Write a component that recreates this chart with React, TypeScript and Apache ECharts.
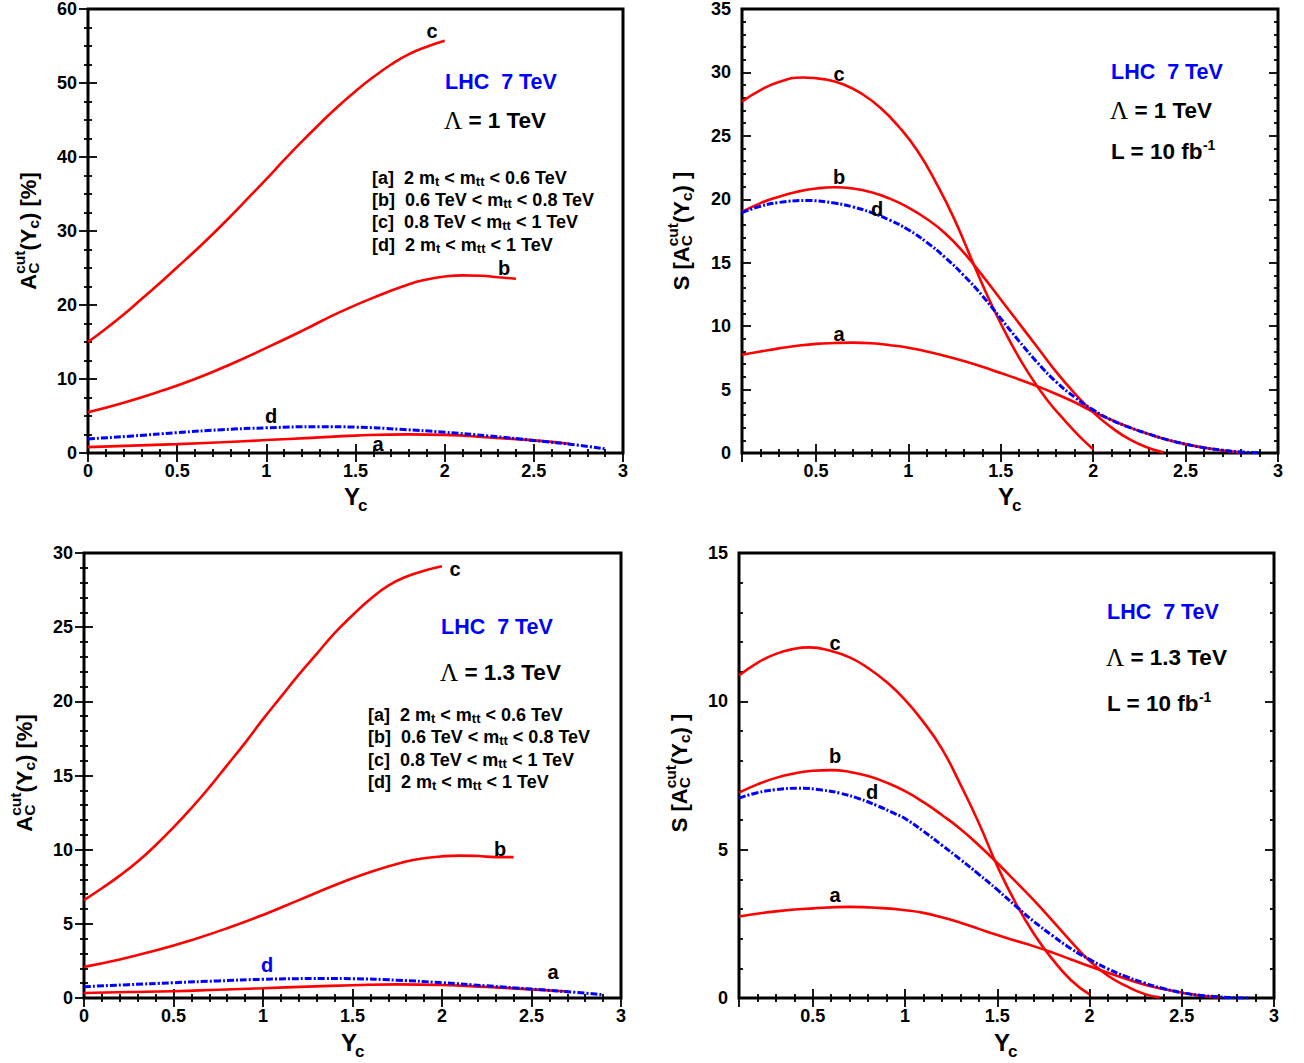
import React, { useEffect, useRef } from "react";
import * as echarts from "echarts";

const FF = "'Liberation Sans', Arial, Helvetica, sans-serif";
const SERIF = "'Liberation Serif', 'DejaVu Serif', serif";
const RED = "#ff0000";
const BLUE = "#0000ff";

// ---------- Panel 1: A_C^cut(Yc) [%], Lambda = 1 TeV ----------
const P1_C_X = [0, 0.1, 0.2, 0.3, 0.4, 0.5, 0.6, 0.7, 0.8, 0.9, 1.0, 1.1, 1.2, 1.3, 1.4, 1.5, 1.6, 1.7, 1.8, 1.9, 2.0];
const P1_C_Y = [15, 16.8, 18.7, 20.8, 22.9, 25.1, 27.3, 29.6, 32.0, 34.5, 37.0, 39.6, 42.1, 44.5, 46.8, 48.9, 50.8, 52.5, 53.9, 54.9, 55.7];
const P1_B_X = [0, 0.2, 0.4, 0.6, 0.8, 1.0, 1.2, 1.4, 1.6, 1.8, 1.9, 2.0, 2.1, 2.2, 2.3, 2.4];
const P1_B_Y = [5.5, 6.8, 8.3, 10.0, 12.0, 14.2, 16.5, 18.9, 21.0, 22.8, 23.45, 23.85, 24.0, 23.95, 23.75, 23.55];
const P1_D_X = [0, 0.25, 0.5, 0.75, 1, 1.3, 1.5, 1.75, 2, 2.25, 2.5, 2.75, 2.9];
const P1_D_Y = [1.9, 2.3, 2.75, 3.15, 3.4, 3.56, 3.5, 3.2, 2.8, 2.3, 1.7, 1.05, 0.55];
const P1_A_X = [0, 0.25, 0.5, 0.75, 1, 1.25, 1.5, 1.8, 2, 2.25, 2.5, 2.7];
const P1_A_Y = [0.8, 1.0, 1.2, 1.45, 1.75, 2.05, 2.35, 2.52, 2.45, 2.1, 1.7, 1.25];

// ---------- Panel 2: S[A_C^cut(Yc)], Lambda = 1 TeV ----------
const P2_C_X = [0.1, 0.2, 0.3, 0.43, 0.55, 0.65, 0.75, 0.85, 0.95, 1.05, 1.15, 1.25, 1.35, 1.45, 1.55, 1.65, 1.75, 1.85, 1.93, 2.0];
const P2_C_Y = [27.7, 28.6, 29.25, 29.6, 29.45, 29.05, 28.3, 27.2, 25.7, 23.8, 21.3, 18.4, 15.0, 11.7, 8.8, 6.3, 4.2, 2.5, 1.25, 0.3];
const P2_B_X = [0.1, 0.2, 0.3, 0.4, 0.5, 0.6, 0.7, 0.8, 0.9, 1.0, 1.1, 1.2, 1.3, 1.4, 1.5, 1.6, 1.7, 1.8, 1.9, 2.0, 2.1, 2.2, 2.3, 2.38];
const P2_B_Y = [19.0, 19.7, 20.2, 20.6, 20.85, 20.95, 20.85, 20.55, 20.05, 19.35, 18.45, 17.3, 15.8, 14.0, 12.1, 10.2, 8.3, 6.4, 4.7, 3.2, 2.0, 1.05, 0.4, 0.05];
const P2_D_X = [0.1, 0.2, 0.3, 0.45, 0.6, 0.7, 0.8, 0.9, 1.0, 1.1, 1.2, 1.3, 1.4, 1.5, 1.6, 1.7, 1.8, 1.9, 2.0, 2.1, 2.2, 2.3, 2.4, 2.5, 2.6, 2.7, 2.8, 2.9];
const P2_D_Y = [18.95, 19.45, 19.75, 19.9, 19.7, 19.4, 18.95, 18.35, 17.6, 16.6, 15.4, 14.0, 12.4, 10.6, 8.8, 7.1, 5.6, 4.4, 3.4, 2.6, 2.0, 1.5, 1.05, 0.7, 0.42, 0.22, 0.08, 0.02];
const P2_A_X = [0.1, 0.2, 0.3, 0.4, 0.5, 0.6, 0.7, 0.8, 0.9, 1.0, 1.1, 1.2, 1.3, 1.4, 1.5, 1.6, 1.7, 1.8, 1.9, 2.0, 2.1, 2.2, 2.3, 2.4, 2.5, 2.6, 2.7, 2.8];
const P2_A_Y = [7.75, 8.0, 8.25, 8.45, 8.6, 8.67, 8.7, 8.65, 8.5, 8.3, 8.0, 7.65, 7.25, 6.8, 6.3, 5.8, 5.25, 4.65, 4.0, 3.25, 2.6, 2.0, 1.5, 1.05, 0.7, 0.42, 0.2, 0.05];

// ---------- Panel 3: A_C^cut(Yc) [%], Lambda = 1.3 TeV ----------
const P3_C_X = [0, 0.1, 0.2, 0.3, 0.4, 0.5, 0.6, 0.7, 0.8, 0.9, 1.0, 1.1, 1.2, 1.3, 1.4, 1.5, 1.6, 1.7, 1.8, 1.9, 2.0];
const P3_C_Y = [6.6, 7.4, 8.25, 9.2, 10.3, 11.5, 12.8, 14.2, 15.7, 17.2, 18.8, 20.3, 21.8, 23.2, 24.6, 25.8, 26.9, 27.8, 28.4, 28.8, 29.1];
const P3_B_X = [0, 0.2, 0.4, 0.6, 0.8, 1.0, 1.2, 1.4, 1.6, 1.8, 1.9, 2.0, 2.1, 2.2, 2.3, 2.4];
const P3_B_Y = [2.1, 2.6, 3.2, 3.9, 4.7, 5.6, 6.6, 7.6, 8.5, 9.2, 9.42, 9.55, 9.6, 9.57, 9.5, 9.5];
const P3_D_X = [0, 0.25, 0.5, 0.75, 1, 1.35, 1.5, 1.75, 2, 2.25, 2.5, 2.75, 2.9];
const P3_D_Y = [0.76, 0.9, 1.03, 1.15, 1.26, 1.31, 1.3, 1.2, 1.03, 0.82, 0.6, 0.38, 0.22];
const P3_A_X = [0, 0.25, 0.5, 0.75, 1, 1.25, 1.5, 1.75, 2, 2.25, 2.5, 2.7];
const P3_A_Y = [0.34, 0.4, 0.46, 0.56, 0.66, 0.77, 0.86, 0.92, 0.88, 0.74, 0.58, 0.44];

// ---------- Panel 4: S[A_C^cut(Yc)], Lambda = 1.3 TeV ----------
const P4_C_X = [0.1, 0.2, 0.3, 0.4, 0.48, 0.6, 0.7, 0.8, 0.9, 1.0, 1.1, 1.2, 1.3, 1.4, 1.5, 1.6, 1.7, 1.8, 1.9, 2.0];
const P4_C_Y = [10.87, 11.3, 11.6, 11.77, 11.82, 11.7, 11.48, 11.12, 10.65, 10.05, 9.3, 8.4, 7.2, 5.9, 4.45, 3.2, 2.15, 1.3, 0.6, 0.12];
const P4_B_X = [0.1, 0.2, 0.3, 0.4, 0.5, 0.6, 0.7, 0.8, 0.9, 1.0, 1.1, 1.2, 1.3, 1.4, 1.5, 1.6, 1.7, 1.8, 1.9, 2.0, 2.1, 2.2, 2.3, 2.38];
const P4_B_Y = [6.92, 7.2, 7.42, 7.57, 7.66, 7.68, 7.62, 7.48, 7.26, 6.97, 6.6, 6.17, 5.7, 5.15, 4.55, 3.92, 3.28, 2.6, 1.9, 1.25, 0.75, 0.4, 0.13, 0.02];
const P4_D_X = [0.1, 0.2, 0.3, 0.42, 0.55, 0.65, 0.75, 0.85, 0.95, 1.0, 1.1, 1.2, 1.3, 1.4, 1.5, 1.6, 1.7, 1.8, 1.9, 2.0, 2.1, 2.2, 2.3, 2.4, 2.5, 2.6, 2.7, 2.8, 2.87];
const P4_D_Y = [6.74, 6.92, 7.02, 7.07, 7.01, 6.9, 6.72, 6.48, 6.2, 6.05, 5.62, 5.15, 4.67, 4.17, 3.65, 3.1, 2.57, 2.1, 1.66, 1.3, 0.98, 0.72, 0.5, 0.32, 0.18, 0.09, 0.04, 0.01, 0];
const P4_A_X = [0.1, 0.3, 0.5, 0.7, 0.9, 1.0, 1.1, 1.2, 1.3, 1.4, 1.5, 1.6, 1.7, 1.8, 1.9, 2.0, 2.1, 2.2, 2.3, 2.4, 2.5, 2.6, 2.7];
const P4_A_Y = [2.75, 2.92, 3.02, 3.07, 3.02, 2.96, 2.87, 2.72, 2.54, 2.33, 2.12, 1.93, 1.74, 1.53, 1.3, 1.07, 0.85, 0.64, 0.45, 0.3, 0.18, 0.08, 0.02];

// axis ranges
const X_MIN = [0, 0.1, 0, 0.1];
const X_MAX = 3;
const Y_MAX = [60, 35, 30, 15];
const Y_STEP = [10, 5, 5, 5];
const Y_MINOR = [4, 5, 5, 5];

const LEGEND_LINES = [
  ["[a]  2 m", "t", " < m", "tt", " < 0.6 TeV"],
  ["[b]  0.6 TeV < m", "tt", " < 0.8 TeV"],
  ["[c]  0.8 TeV < m", "tt", " < 1 TeV"],
  ["[d]  2 m", "t", " < m", "tt", " < 1 TeV"],
];

const zip = (xs: number[], ys: number[]) => xs.map((x, i) => [x, ys[i]]);

let measureCtx: CanvasRenderingContext2D | null = null;
function measure(t: string, size: number) {
  if (!measureCtx) measureCtx = document.createElement("canvas").getContext("2d");
  measureCtx!.font = `bold ${size}px ${FF}`;
  return measureCtx!.measureText(t).width;
}

function yTitle(cx: number, cy: number, prefix: string, suffix: string) {
  const big = 22;
  const small = 15.5;
  const parts: { t: string; size: number; x: number; dy: number }[] = [];
  let x = 0;
  const add = (t: string, size: number, dy: number) => {
    parts.push({ t, size, x, dy });
    x += measure(t, size);
  };
  if (prefix) add(prefix, big, 0);
  add("A", big, 0);
  const x0 = x;
  parts.push({ t: "C", size: small, x: x0, dy: 5 });
  parts.push({ t: "cut", size: small, x: x0, dy: -9 });
  x += Math.max(measure("C", small), measure("cut", small));
  add("(Y", big, 0);
  add("c", small, 5);
  add(")" + suffix, big, 0);
  const W = x;
  return {
    type: "group",
    x: cx,
    y: cy,
    rotation: Math.PI / 2,
    children: parts.map((p) => ({
      type: "text",
      x: p.x - W / 2,
      y: p.dy,
      style: {
        text: p.t,
        font: `bold ${p.size}px ${FF}`,
        fill: "#000",
        align: "left",
        verticalAlign: "middle",
      },
    })),
  };
}

function xTitle(cx: number, cy: number) {
  return {
    type: "group",
    x: cx,
    y: cy,
    children: [
      {
        type: "text",
        x: 0,
        y: 0,
        style: { text: "Y", font: `bold 24px ${FF}`, fill: "#000", align: "center", verticalAlign: "middle" },
      },
      {
        type: "text",
        x: 6,
        y: 9,
        style: { text: "c", font: `bold 17px ${FF}`, fill: "#000", align: "left", verticalAlign: "middle" },
      },
    ],
  };
}

const RICH: any = {
  m: { fontSize: 18, fontWeight: "bold", fontFamily: FF, lineHeight: 20, verticalAlign: "middle", fill: "#000" },
  s: { fontSize: 13, fontWeight: "bold", fontFamily: FF, lineHeight: 8, verticalAlign: "bottom", fill: "#000" },
  big: { fontSize: 22.5, fontWeight: "bold", fontFamily: FF, lineHeight: 26, fill: "#000" },
  sup: { fontSize: 14, fontWeight: "bold", fontFamily: FF, lineHeight: 12, verticalAlign: "top", fill: "#000" },
  lam: { fontSize: 25, fontFamily: SERIF, lineHeight: 26, fill: "#000" },
  blue: { fontSize: 21.5, fontWeight: "bold", fontFamily: FF, lineHeight: 24, fill: BLUE },
};

function rtext(x: number, y: number, text: string, align = "left") {
  return {
    type: "text",
    x,
    y,
    z: 100,
    style: { text, rich: RICH, align, verticalAlign: "middle" },
  };
}

function label(x: number, y: number, t: string, color = "#000") {
  return {
    type: "text",
    x,
    y,
    z: 100,
    style: {
      text: t,
      font: `bold 20px ${FF}`,
      fill: color,
      align: "center",
      verticalAlign: "middle",
    },
  };
}

function legendLine(x: number, y: number, parts: string[]) {
  const t = parts.map((p, i) => (i % 2 === 0 ? `{m|${p}}` : `{s|${p}}`)).join("");
  return rtext(x, y, t);
}

const GRIDS = [
  { left: 88, top: 9, width: 535, height: 444 },
  { left: 742, top: 9, width: 536, height: 444 },
  { left: 84, top: 553, width: 537, height: 445 },
  { left: 739, top: 553, width: 535, height: 445 },
];

function App() {
  const ref = useRef<HTMLDivElement>(null);
  useEffect(() => {
    document.body.style.margin = "0";
    const chart = echarts.init(ref.current!, null, { renderer: "svg" });

    const tickStyle = { color: "#000", width: 1.8 };
    const labelStyle = { color: "#000", fontSize: 18, fontWeight: "bold", fontFamily: FF };

    const xAxes: any[] = [];
    const yAxes: any[] = [];
    GRIDS.forEach((_, i) => {
      const xBase: any = {
        gridIndex: i,
        type: "value",
        min: X_MIN[i],
        max: X_MAX,
        axisLine: { show: false },
        splitLine: { show: false },
        axisTick: { inside: true, length: 9, lineStyle: tickStyle },
        minorTick: { show: true, splitNumber: 5, length: 4, lineStyle: tickStyle },
      };
      if (X_MIN[i] === 0) xBase.interval = 0.5;
      else xBase.splitNumber = 6;
      xAxes.push({
        ...xBase,
        position: "bottom",
        axisLabel: { ...labelStyle, margin: 9, showMinLabel: X_MIN[i] === 0 },
      });
      xAxes.push({ ...xBase, position: "top", axisLabel: { show: false } });
      const yBase: any = {
        gridIndex: i,
        type: "value",
        min: 0,
        max: Y_MAX[i],
        interval: Y_STEP[i],
        axisLine: { show: false },
        splitLine: { show: false },
        axisTick: { inside: true, length: 9, lineStyle: tickStyle },
        minorTick: { show: true, splitNumber: Y_MINOR[i], length: 4, lineStyle: tickStyle },
      };
      yAxes.push({ ...yBase, position: "left", axisLabel: { ...labelStyle, margin: 11 } });
      yAxes.push({ ...yBase, position: "right", axisLabel: { show: false } });
    });

    const panels = [
      [[P1_A_X, P1_A_Y], [P1_B_X, P1_B_Y], [P1_C_X, P1_C_Y], [P1_D_X, P1_D_Y]],
      [[P2_A_X, P2_A_Y], [P2_B_X, P2_B_Y], [P2_C_X, P2_C_Y], [P2_D_X, P2_D_Y]],
      [[P3_A_X, P3_A_Y], [P3_B_X, P3_B_Y], [P3_C_X, P3_C_Y], [P3_D_X, P3_D_Y]],
      [[P4_A_X, P4_A_Y], [P4_B_X, P4_B_Y], [P4_C_X, P4_C_Y], [P4_D_X, P4_D_Y]],
    ];
    const names = ["a", "b", "c", "d"];
    const series: any[] = [];
    panels.forEach((curves, i) => {
      curves.forEach(([xs, ys], k) => {
        const isD = k === 3;
        series.push({
          type: "line",
          name: `panel${i + 1}-${names[k]}`,
          xAxisIndex: i * 2,
          yAxisIndex: i * 2,
          data: zip(xs as number[], ys as number[]),
          showSymbol: false,
          smooth: 0.5,
          z: isD ? 4 : 3,
          lineStyle: isD
            ? { color: BLUE, width: 3, type: [7, 2, 2, 2] }
            : { color: RED, width: 2.6 },
        });
      });
    });

    const graphics: any[] = [
      // Panel 1
      rtext(445, 82, "{blue|LHC  7 TeV}"),
      rtext(444, 120, "{lam|Λ}{big| = 1 TeV}"),
      ...LEGEND_LINES.map((l, j) => legendLine(372, [178, 200, 222, 245][j], l)),
      label(432, 31, "c"),
      label(504, 268, "b"),
      label(271, 416, "d"),
      label(378, 444, "a"),
      xTitle(352, 496),
      yTitle(28, 231, "", " [%]"),
      // Panel 2
      rtext(1111, 72, "{blue|LHC  7 TeV}"),
      rtext(1110, 110, "{lam|Λ}{big| = 1 TeV}"),
      rtext(1111, 151, "{big|L = 10 fb}{sup|-1}"),
      label(839, 74, "c"),
      label(839, 177, "b"),
      label(877, 209, "d"),
      label(839, 334, "a"),
      xTitle(1006, 496),
      yTitle(681, 231, "S [", " ]"),
      // Panel 3
      rtext(441, 627, "{blue|LHC  7 TeV}"),
      rtext(440, 672, "{lam|Λ}{big| = 1.3 TeV}"),
      ...LEGEND_LINES.map((l, j) => legendLine(368, [715, 737, 760, 782][j], l)),
      label(455, 569, "c"),
      label(500, 849, "b"),
      label(267, 965, "d", BLUE),
      label(553, 972, "a"),
      xTitle(349, 1042),
      yTitle(24, 773, "", " [%]"),
      // Panel 4
      rtext(1107, 612, "{blue|LHC  7 TeV}"),
      rtext(1106, 657, "{lam|Λ}{big| = 1.3 TeV}"),
      rtext(1107, 703, "{big|L = 10 fb}{sup|-1}"),
      label(835, 643, "c"),
      label(835, 756, "b"),
      label(872, 792, "d"),
      label(835, 895, "a"),
      xTitle(1002, 1042),
      yTitle(679, 773, "S [", " ]"),
    ];

    chart.setOption({
      animation: false,
      backgroundColor: "#fff",
      grid: GRIDS.map((g) => ({
        ...g,
        show: true,
        borderColor: "#000",
        borderWidth: 3,
        backgroundColor: "transparent",
      })),
      xAxis: xAxes,
      yAxis: yAxes,
      series,
      graphic: graphics,
    });
    return () => chart.dispose();
  }, []);
  return <div ref={ref} style={{ width: 1304, height: 1063 }} />;
}

export default App;
